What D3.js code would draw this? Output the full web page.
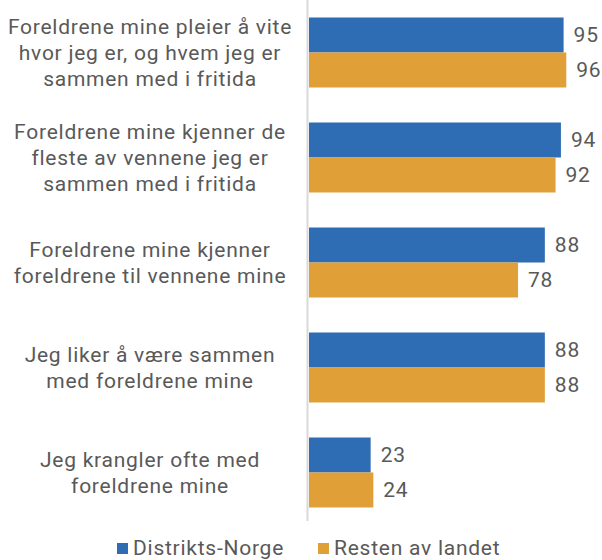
<!DOCTYPE html>
<html>
<head>
<meta charset="utf-8">
<script src="https://cdn.jsdelivr.net/npm/d3@7"></script>
<style>
    body { margin: 0; background: #fff; }
    text { font-family: Roboto, "Liberation Sans", sans-serif; fill: #595959; letter-spacing: 0.75px; }
</style>
</head>
<body>
<div id="chart"></div>
<script>
// data
var categories = [
    ["Foreldrene mine pleier å vite", "hvor jeg er, og hvem jeg er", "sammen med i fritida"],
    ["Foreldrene mine kjenner de", "fleste av vennene jeg er", "sammen med i fritida"],
    ["Foreldrene mine kjenner", "foreldrene til vennene mine"],
    ["Jeg liker å være sammen", "med foreldrene mine"],
    ["Jeg krangler ofte med", "foreldrene mine"]
];
var seriesNames = ["Distrikts-Norge", "Resten av landet"];
var distrikt = [95, 94, 88, 88, 23];
var resten = [96, 92, 78, 88, 24];
var colors = ["#2e6db4", "#e09f37"];

var width = 602, height = 560;
var svg = d3.select("#chart").append("svg")
    .attr("width", width)
    .attr("height", height);

var rows = categories.map(function (c, i) {
    return { label: c, values: [distrikt[i], resten[i]], idx: i };
});

var x = d3.scaleLinear().domain([0, 100]).range([309, 577]);
var y = d3.scaleBand()
    .domain(d3.range(categories.length))
    .range([0, 525])
    .paddingInner(1 / 3)
    .paddingOuter(1 / 6);
var ySub = d3.scaleBand().domain([0, 1]).range([0, y.bandwidth()]);

// axis line
svg.append("line")
    .attr("x1", 307.5).attr("x2", 307.5)
    .attr("y1", 0).attr("y2", 521)
    .attr("stroke", "#d9d9d9")
    .attr("stroke-width", 2);

var g = svg.selectAll(".grp")
    .data(rows)
    .enter().append("g")
    .attr("class", "grp")
    .attr("transform", function (d) { return "translate(0," + y(d.idx) + ")"; });

g.selectAll("rect")
    .data(function (d) { return d.values; })
    .enter().append("rect")
    .attr("x", x(0))
    .attr("y", function (d, i) { return ySub(i); })
    .attr("width", function (d) { return x(d) - x(0); })
    .attr("height", ySub.bandwidth())
    .attr("fill", function (d, i) { return colors[i]; });

g.selectAll(".val")
    .data(function (d) { return d.values; })
    .enter().append("text")
    .attr("class", "val")
    .attr("x", function (d) { return x(d) + 10; })
    .attr("y", function (d, i) { return ySub(i) + ySub.bandwidth() / 2; })
    .attr("dy", "0.35em")
    .attr("font-size", "21px")
    .text(function (d) { return d; });

// category labels
g.append("text")
    .attr("text-anchor", "middle")
    .attr("font-size", "21px")
    .each(function (d) {
        var t = d3.select(this);
        var n = d.label.length;
        d.label.forEach(function (line, k) {
            t.append("tspan")
                .attr("x", 150)
                .attr("y", y.bandwidth() / 2 + (k - (n - 1) / 2) * 26)
                .attr("dy", "0.35em")
                .text(line);
        });
    });

// legend
var legend = svg.append("g").attr("transform", "translate(0,548)");
var legX = [117, 318];
seriesNames.forEach(function (s, i) {
    legend.append("rect")
        .attr("x", legX[i]).attr("y", -5)
        .attr("width", 11).attr("height", 11)
        .attr("fill", colors[i]);
    legend.append("text")
        .attr("x", legX[i] + 16)
        .attr("y", 0)
        .attr("dy", "0.35em")
        .attr("font-size", "21px")
        .text(s);
});
</script>
</body>
</html>
